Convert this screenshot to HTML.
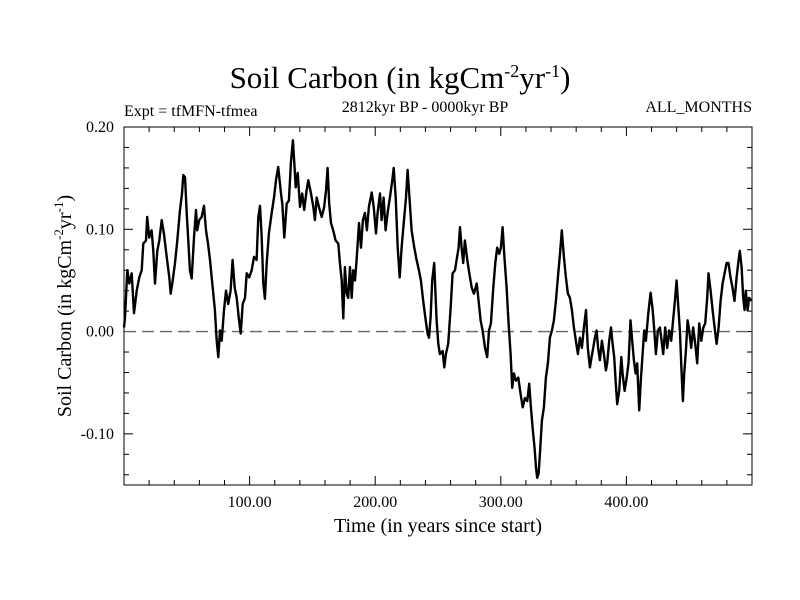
<!DOCTYPE html>
<html><head><meta charset="utf-8"><style>
body{margin:0;background:#fff;}
svg{display:block;font-family:"Liberation Serif",serif;}
</style></head><body>
<svg id="chart" width="800" height="600">
<text x="400" y="88" text-anchor="middle" font-size="31">Soil Carbon (in kgCm<tspan dy="-11" font-size="18">-2</tspan><tspan dy="11">yr</tspan><tspan dy="-11" font-size="18">-1</tspan><tspan dy="11">)</tspan></text>
<text x="124" y="116" font-size="16">Expt = tfMFN-tfmea</text>
<text x="425" y="112" text-anchor="middle" font-size="16">2812kyr BP - 0000kyr BP</text>
<text x="752" y="112" text-anchor="end" font-size="16">ALL_MONTHS</text>
<text x="438" y="532" text-anchor="middle" font-size="20">Time (in years since start)</text>
<text transform="translate(71,306) rotate(-90)" text-anchor="middle" font-size="20">Soil Carbon (in kgCm<tspan dy="-8" font-size="13">-2</tspan><tspan dy="8">yr</tspan><tspan dy="-8" font-size="13">-1</tspan><tspan dy="8">)</tspan></text>
<g id="axes"></g>
<g id="series"></g>
<rect x="124" y="127" width="628" height="358" fill="none" stroke="#000" stroke-width="1"/>
</svg>
<script>
const years=[0,0.8,2.6,4.2,6.1,8.0,10.1,12.2,14.1,15.4,17.5,18.5,20.1,22.0,23.3,24.7,26.5,28.1,30.0,31.8,34.0,36.1,37.2,38.8,40.6,42.4,44.6,46.2,47.2,48.6,49.9,51.2,52.5,53.9,55.7,57.3,58.3,59.9,61.8,63.7,65.3,66.9,68.5,70.6,72.4,73.8,75.1,76.4,77.8,79.6,81.2,83.0,84.9,86.5,88.1,89.7,91.3,92.9,94.5,96.3,97.7,99.7,101.7,103.5,105.6,106.9,108.3,109.6,110.9,112.2,113.6,115.4,117.6,119.4,121.0,122.8,
125.0,126.0,127.6,129.5,131.3,132.9,134.5,135.6,136.7,138.3,140.1,141.9,143.5,145.4,146.7,148.9,150.7,152.0,153.4,155.2,157.4,159.4,160.8,162.1,163.4,164.8,166.6,168.5,170.6,171.9,173.3,174.6,175.9,177.3,178.5,179.9,181.3,182.5,183.9,185.2,187.1,188.7,190.2,191.8,193.4,195.0,197.2,198.8,200.6,201.9,203.8,205.1,206.7,208.3,209.9,211.7,213.6,214.7,216.3,217.9,219.5,221.0,222.9,224.5,225.8,227.1,229.0,231.1,233.0,234.8,236.4,238.2,240.2,241.7,242.8,244.1,245.4,247.0,
248.9,250.2,251.5,253.7,255.0,256.3,258.1,260.1,261.6,263.5,264.8,266.4,267.5,268.8,270.1,271.4,273.3,274.9,276.8,278.6,280.8,282.3,283.9,285.5,287.4,289.2,290.6,292.1,294.0,295.6,297.1,298.7,300.1,301.4,302.7,304.6,306.2,307.8,309.1,310.4,312.0,313.9,315.8,317.4,319.2,321.0,322.6,324.0,325.3,326.9,328.0,329.0,330.1,331.1,332.7,334.3,335.9,337.5,339.1,340.7,342.3,343.9,345.5,347.1,348.6,350.2,351.8,353.4,355.0,356.6,358.2,359.8,361.4,363.0,364.6,366.2,367.8,369.3,
370.9,372.3,373.6,374.9,376.3,377.5,378.9,380.5,382.1,383.7,384.7,386.3,387.7,389.0,390.3,391.6,392.7,394.3,395.9,397.0,398.6,400.2,401.7,403.3,404.6,406.0,407.3,408.6,410.2,411.5,412.9,414.2,415.5,417.4,419.3,420.9,422.2,423.5,425.1,426.7,428.0,429.3,430.9,432.5,434.1,435.7,437.2,438.6,440.0,441.2,442.6,443.9,445.0,446.0,447.4,448.7,450.0,451.6,453.2,454.8,456.4,458.0,459.6,461.2,462.7,464.3,465.4,467.0,468.6,470.2,471.8,473.4,475.0,476.6,478.2,479.8,481.3,482.9,484.5,486.1,487.7,489.3,490.3,491.7,493.0,494.1,495.1,496.5,497.7,499.6];
const carbon=[.004,.014,.060,.047,.057,.018,.040,.053,.060,.086,.089,.112,.092,.099,.079,.047,.079,.089,.109,.096,.073,.053,.037,.050,.067,.089,.119,.135,.153,.151,.116,.089,.060,.052,.092,.119,.099,.109,.112,.123,.099,.086,.070,.043,.021,-.009,-.025,.001,-.009,.021,.040,.027,.040,.070,.043,.033,.014,-.002,.027,.033,.057,.053,.060,.073,.070,.112,.123,.092,.047,.032,.067,.096,.116,.131,.148,.161,
.135,.125,.092,.125,.128,.165,.187,.165,.141,.155,.122,.135,.119,.138,.148,.135,.122,.109,.131,.122,.112,.122,.138,.160,.125,.106,.099,.089,.086,.067,.050,.013,.063,.037,.033,.063,.033,.060,.050,.070,.106,.082,.109,.116,.099,.122,.136,.122,.096,.116,.135,.109,.131,.099,.116,.131,.148,.160,.131,.082,.053,.082,.109,.131,.158,.135,.099,.082,.070,.060,.050,.030,.011,-.002,-.006,.014,.050,.067,
.011,-.012,-.022,-.019,-.035,-.022,-.012,.024,.057,.060,.070,.082,.102,.082,.067,.089,.070,.057,.043,.037,.047,.030,.011,.001,-.016,-.025,.001,.008,.043,.067,.082,.076,.082,.102,.076,.043,.008,-.022,-.055,-.041,-.048,-.045,-.061,-.074,-.065,-.068,-.051,-.074,-.094,-.114,-.133,-.143,-.139,-.120,-.087,-.074,-.045,-.031,-.006,.001,.011,.030,.053,.076,.099,.073,.053,.037,.033,.021,.004,-.009,-.022,-.006,-.016,.004,.021,-.016,
-.035,-.025,-.016,-.006,.001,-.016,-.028,-.009,-.022,-.038,-.031,-.009,.004,-.012,-.025,-.051,-.071,-.058,-.025,-.041,-.058,-.045,-.031,.011,-.009,-.028,-.041,-.031,-.077,-.048,-.022,.001,-.009,.018,.038,.021,.001,-.022,.001,.004,-.009,-.022,.004,-.016,.001,-.009,.011,.030,.050,.027,.001,-.038,-.068,-.041,-.019,.011,.001,-.016,.004,-.012,-.031,.008,-.009,.004,.008,.033,.057,.040,.021,.004,-.012,.004,.030,.047,.057,.067,.067,.053,.043,.030,.053,.070,.079,.063,.033,.021,.040,.021,.033,.030];
const yTickValues=[-0.1,0,0.1,0.2];
const yTickLabels=["-0.10","0.00","0.10","0.20"];
const xTickValues=[100,200,300,400];
const xTickLabels=["100.00","200.00","300.00","400.00"];
const X0=124,X1=752,Y0=127,Y1=485,XMIN=0,XMAX=500,YMIN=-0.15,YMAX=0.2;
const NS='http://www.w3.org/2000/svg';
function xs(v){return X0+(v-XMIN)/(XMAX-XMIN)*(X1-X0);}
function ys(v){return Y1-(v-YMIN)/(YMAX-YMIN)*(Y1-Y0);}
const axes=document.getElementById('axes');
function line(x1,y1,x2,y2,name,extra){const l=document.createElementNS(NS,'line');l.setAttribute('x1',x1);l.setAttribute('y1',y1);l.setAttribute('x2',x2);l.setAttribute('y2',y2);l.setAttribute('stroke',extra||'#000');l.setAttribute('stroke-width','1');


axes.appendChild(l);return l;}
// minor/major x ticks
for(let v=20;v<500;v+=20){const major=v%100===0;const L=major?9:5;const x=xs(v);line(x,Y1,x,Y1-L,'x-tick');line(x,Y0,x,Y0+L,'x-tick-top');}
for(let k=-7;k<=9;k++){const v=k*0.02;const major=Math.abs(Math.round(v*100)%10)===0;const L=major?9:5;const y=ys(v);line(X0,y,X0+L,y,'y-tick');line(X1,y,X1-L,y,'y-tick-right');}
xTickValues.forEach((v,i)=>{const t=document.createElementNS(NS,'text');t.setAttribute('x',xs(v));t.setAttribute('y',507);t.setAttribute('text-anchor','middle');t.setAttribute('font-size','16');t.textContent=xTickLabels[i];


axes.appendChild(t);});
yTickValues.forEach((v,i)=>{const t=document.createElementNS(NS,'text');t.setAttribute('x',114);t.setAttribute('y',ys(v)+5);t.setAttribute('text-anchor','end');t.setAttribute('font-size','16');t.textContent=yTickLabels[i];


axes.appendChild(t);});
const zl=line(X0,ys(0),X1,ys(0),'zero-line','#666');zl.setAttribute('stroke-dasharray','12,6');zl.setAttribute('stroke-width','1.3');
const p=document.createElementNS(NS,'path');
p.setAttribute('d',years.map((yr,i)=>(i?'L':'M')+xs(yr).toFixed(1)+','+ys(carbon[i]).toFixed(1)).join(''));
p.setAttribute('fill','none');p.setAttribute('stroke','#000');p.setAttribute('stroke-width','2.4');p.setAttribute('stroke-linejoin','round');


document.getElementById('series').appendChild(p);
</script>
</body></html>
